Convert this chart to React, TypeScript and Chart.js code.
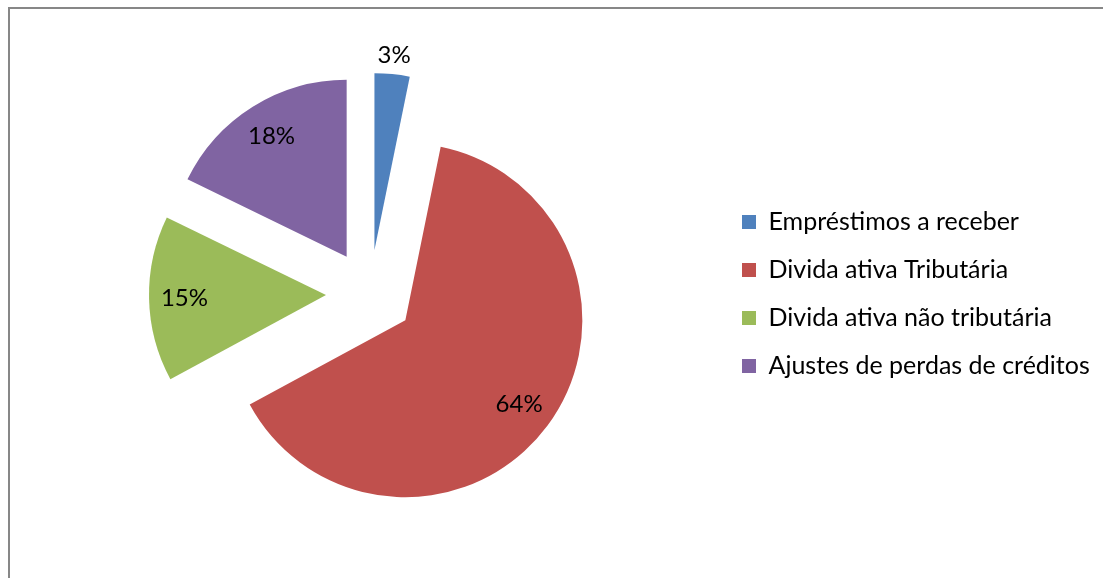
import React, { useEffect, useRef } from "react";
import { Chart, registerables } from "chart.js";

Chart.register(...registerables);

const categories = [
  "Empréstimos a receber",
  "Divida ativa Tributária",
  "Divida ativa não tributária",
  "Ajustes de perdas de créditos",
];
const values = [3.2, 63.9, 15.1, 17.8];
const colors = ["#4F81BD", "#C0504D", "#9BBB59", "#8064A2"];

const W = 1103;
const H = 578;
const FONT_FAMILY = "Lato, 'Open Sans', sans-serif";
const LEGEND_FONT_SIZE = 25;
const LABEL_FONT_SIZE = 24;
const PIE_RADIUS = 177;
const EXPLODE = 44; // distance each slice is pulled out from the centre, px
const LEGEND_BOX = 14;
const LEGEND_PAD = 23;
const LEGEND_BOX_X = 742;
const PAD_LEFT = 21;
const PAD_TOP = 44;
const PAD_BOTTOM = 34;

// Draw each arc (with the library's own arc element) shifted outward along its mid-angle.
const explodePlugin = {
  id: "explodeSlices",
  beforeDatasetDraw(chart: any, args: any) {
    const ctx = chart.ctx;
    const arcs = args.meta.data || [];
    for (const arc of arcs) {
      const mid = (arc.startAngle + arc.endAngle) / 2;
      ctx.save();
      ctx.translate(Math.cos(mid) * EXPLODE, Math.sin(mid) * EXPLODE);
      arc.draw(ctx);
      ctx.restore();
    }
    return false;
  },
};

const percentLabelPlugin = {
  id: "percentLabels",
  afterDatasetsDraw(chart: any) {
    const ctx = chart.ctx;
    const meta = chart.getDatasetMeta(0);
    const data = chart.data.datasets[0].data as number[];
    const total = data.reduce((a, b) => a + b, 0);
    ctx.save();
    ctx.font = `${LABEL_FONT_SIZE}px ${FONT_FAMILY}`;
    ctx.fillStyle = "#000000";
    ctx.textAlign = "center";
    ctx.textBaseline = "middle";
    meta.data.forEach((arc: any, i: number) => {
      const mid = (arc.startAngle + arc.endAngle) / 2;
      const small = arc.circumference < 0.4;
      const R = arc.outerRadius;
      const d = small ? R + 19 : R * 0.8;
      const x = arc.x + Math.cos(mid) * (EXPLODE + d);
      const y = arc.y + Math.sin(mid) * (EXPLODE + d);
      const pct = Math.round((data[i] / total) * 100);
      ctx.fillText(`${pct}%`, x, y);
    });
    ctx.restore();
  },
};

export default function App() {
  const canvasRef = useRef<HTMLCanvasElement | null>(null);

  useEffect(() => {
    const canvas = canvasRef.current;
    if (!canvas) return;
    const mctx = canvas.getContext("2d")!;
    mctx.font = `${LEGEND_FONT_SIZE}px ${FONT_FAMILY}`;
    let maxW = 0;
    for (const c of categories) maxW = Math.max(maxW, mctx.measureText(c).width);
    const legendWidth = LEGEND_PAD + LEGEND_BOX + LEGEND_FONT_SIZE / 2 + maxW + 10;
    const legendLeft = LEGEND_BOX_X - LEGEND_PAD;
    const padRight = Math.max(0, W - legendLeft - legendWidth);

    const chart = new Chart(canvas, {
      type: "pie",
      data: {
        labels: categories,
        datasets: [
          {
            data: values,
            backgroundColor: colors,
            borderWidth: 0,
            hoverOffset: 0,
          } as any,
        ],
      },
      options: {
        responsive: false,
        animation: false,
        devicePixelRatio: 1,
        radius: PIE_RADIUS,
        layout: {
          padding: { left: PAD_LEFT, right: padRight, top: PAD_TOP, bottom: PAD_BOTTOM },
        },
        plugins: {
          tooltip: { enabled: false },
          legend: {
            position: "right",
            align: "center",
            labels: {
              boxWidth: LEGEND_BOX,
              boxHeight: LEGEND_BOX,
              padding: LEGEND_PAD,
              color: "#000000",
              font: { family: FONT_FAMILY, size: LEGEND_FONT_SIZE },
            },
          },
        },
      } as any,
      plugins: [explodePlugin, percentLabelPlugin],
    });
    return () => chart.destroy();
  }, []);

  return (
    <div>
      <div
        style={{
          position: "fixed",
          left: 8,
          top: 7,
          right: 0,
          bottom: 0,
          borderLeft: "2px solid #878787",
          borderTop: "2px solid #878787",
          background: "#ffffff",
        }}
      />
      <canvas
        ref={canvasRef}
        width={W}
        height={H}
        style={{ position: "fixed", left: 0, top: 0, width: W, height: H, display: "block" }}
      />
    </div>
  );
}
